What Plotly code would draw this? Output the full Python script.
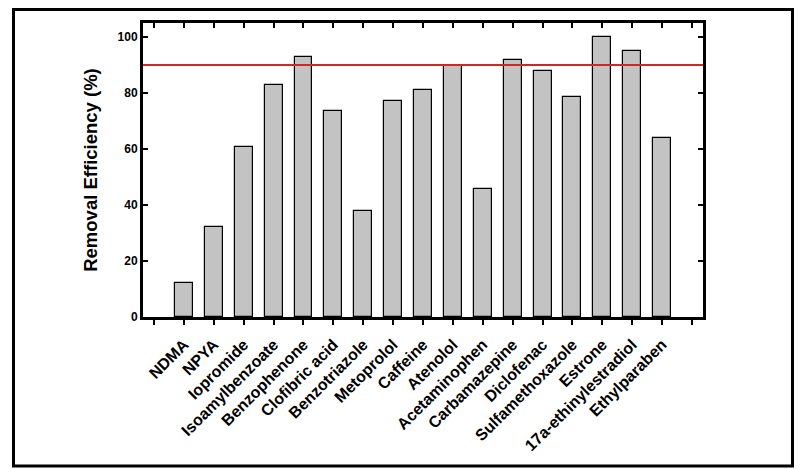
import plotly.graph_objects as go

compounds = ["NDMA", "NPYA", "Iopromide", "Isoamylbenzoate", "Benzophenone", "Clofibric acid",
             "Benzotriazole", "Metoprolol", "Caffeine", "Atenolol", "Acetaminophen",
             "Carbamazepine", "Diclofenac", "Sulfamethoxazole", "Estrone",
             "17a-ethinylestradiol", "Ethylparaben"]
removal = [12, 32, 60.7, 82.7, 92.9, 73.4, 37.8, 77.1, 80.9, 89.7, 45.6,
           91.9, 88.0, 78.7, 100, 95.1, 64.1]
threshold = 90
y_ticks = [0, 20, 40, 60, 80, 100]

positions = list(range(1, len(compounds) + 1))
tick_positions = list(range(0, len(compounds) + 2))
tick_labels = [""] + compounds + [""]

W, H = 802, 469
L, R, T, B = 143, 99, 23, 152
pw, ph = W - L - R, H - T - B

fig = go.Figure()
fig.add_trace(go.Bar(x=positions, y=removal, width=0.6,
                     marker=dict(color="#c3c3c3", line=dict(color="black", width=1.2)),
                     showlegend=False))
# invisible trace for top axis
fig.add_trace(go.Scatter(x=[positions[0]], y=[0], xaxis="x2", mode="markers",
                         marker=dict(opacity=0), showlegend=False, hoverinfo="skip"))

xr = [-0.37, len(compounds) + 1.37]

fig.update_layout(
    width=W, height=H,
    margin=dict(l=L, r=R, t=T, b=B, autoexpand=False),
    paper_bgcolor="white", plot_bgcolor="white",
    bargap=0,
    xaxis=dict(range=xr, tickmode="array", tickvals=tick_positions, ticktext=tick_labels,
               tickangle=-45, ticks="outside", ticklen=5, tickwidth=2, tickcolor="black",
               ticklabelstandoff=4,
               showline=True, linewidth=3, linecolor="black", showgrid=False, zeroline=False,
               automargin=False,
               tickfont=dict(family="Arial, Liberation Sans", size=16, color="black", weight="bold")),
    xaxis2=dict(range=xr, overlaying="x", side="top", tickmode="array", tickvals=tick_positions,
                showticklabels=False, ticks="inside", ticklen=5, tickwidth=2, tickcolor="black",
                showline=True, linewidth=3, linecolor="black", showgrid=False, zeroline=False,
                automargin=False),
    yaxis=dict(range=[0, 105], tickmode="array", tickvals=y_ticks,
               ticks="inside", ticklen=5, tickwidth=2, tickcolor="black",
               showline=True, linewidth=3, linecolor="black", mirror="ticks",
               showgrid=False, zeroline=False, automargin=False,
               tickfont=dict(family="Arial, Liberation Sans", size=12, color="black", weight="bold"),
               title=dict(text="Removal Efficiency (%)", standoff=16,
                          font=dict(family="Arial, Liberation Sans", size=18.5, color="black", weight="bold"))),
)

# threshold line
fig.add_shape(type="line", xref="paper", yref="y", x0=0, x1=1, y0=threshold, y1=threshold,
              line=dict(color="#d42424", width=2))

# outer frame
fig.add_shape(type="rect", xref="paper", yref="paper",
              x0=(13.5 - L) / pw, x1=(792.5 - L) / pw,
              y0=(H - B - 466) / ph, y1=(H - B - 9.5) / ph,
              line=dict(color="black", width=3), fillcolor="rgba(0,0,0,0)")

fig.write_html("out.html", config={"displayModeBar": False},
               post_script="document.body.style.margin='0';")
